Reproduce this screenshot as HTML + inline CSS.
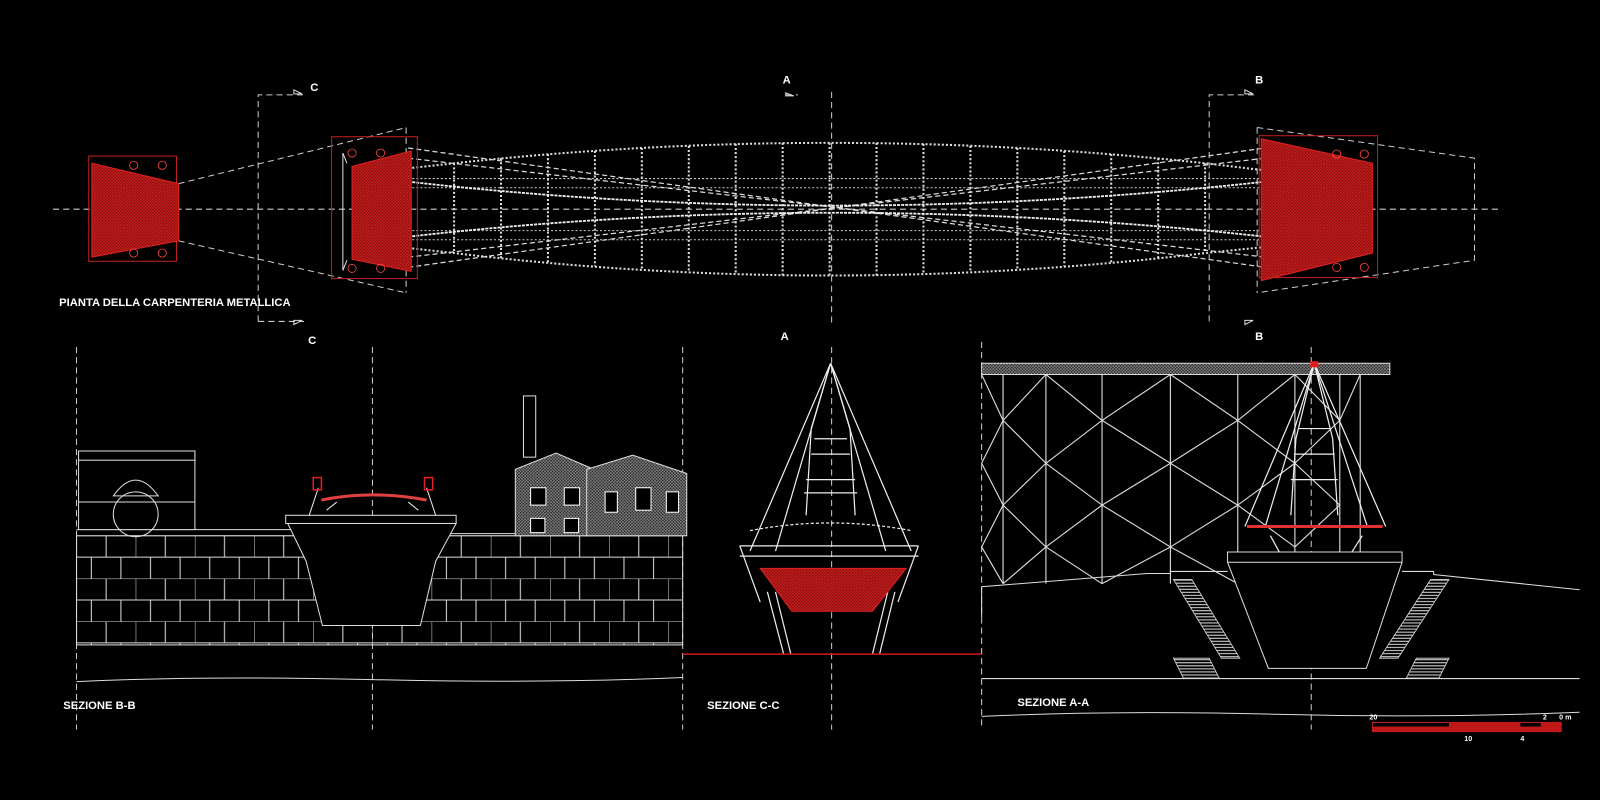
<!DOCTYPE html>
<html><head><meta charset="utf-8"><style>
html,body{margin:0;padding:0;background:#000;}
svg{display:block}
text{font-family:"Liberation Sans",sans-serif;font-weight:bold;fill:#fff;font-size:11px}
</style></head><body>
<svg width="1600" height="800" viewBox="0 0 1568 784" xmlns="http://www.w3.org/2000/svg">
<defs>
<pattern id="rh" width="3" height="3" patternUnits="userSpaceOnUse"><rect width="3" height="3" fill="#7a0a0a"/><path d="M0,0L3,3M3,0L0,3" stroke="#d02020" stroke-width="0.7"/></pattern>
<pattern id="st" width="4" height="3" patternUnits="userSpaceOnUse"><rect width="4" height="3" fill="#000"/><path d="M0,1.5H4" stroke="#ddd" stroke-width="1"/></pattern>
<pattern id="wh" width="3" height="3" patternUnits="userSpaceOnUse"><rect width="3" height="3" fill="#222"/><path d="M0,0L3,3M3,0L0,3" stroke="#aaa" stroke-width="0.5"/></pattern>
<pattern id="brick" width="58" height="42" patternUnits="userSpaceOnUse" x="17" y="525"><path d="M0,0H58M0,21H58M0,0V21M29,0V21M14.5,21V42M43.5,21V42" stroke="#ddd" stroke-width="1" fill="none"/></pattern>
</defs>
<rect width="1568" height="784" fill="#000"/>

<!-- ============ PLAN ============ -->
<g fill="none" stroke="#ccc" stroke-width="1" stroke-dasharray="6,4">
<line x1="52" y1="205" x2="1470" y2="205"/>
<path d="M175,180 L398,125 M175,236 L398,287"/>
<line x1="398" y1="125" x2="398" y2="287"/>
<path d="M1232,125 L1445,155 L1445,255 L1232,287"/>
<line x1="1232" y1="125" x2="1232" y2="287"/>
<path d="M253,315 V93 H298"/>
<path d="M253,315 H298"/>
<line x1="815" y1="90" x2="815" y2="320"/>
<path d="M770,93 H782"/>
<path d="M1185,315 V93 H1232"/>
</g>
<g fill="none" stroke="#ddd" stroke-width="1">
<path d="M288,88 l8,4 h-8z"/><path d="M288,318 l8,-4 h-8z"/>
<path d="M770,91 l8,3 h-8z"/><path d="M1220,88 l8,4 h-8z"/><path d="M1220,318 l8,-4 h-8z"/>
</g>
<g fill="none" stroke="#ddd" stroke-width="2" stroke-dasharray="2,2">
<path d="M400,165 L445,160 Q813,120 1181,160 L1240,167"/>
<path d="M400,243 L445,248 Q813,292 1181,248 L1240,242"/>
<line x1="445" y1="160" x2="445" y2="248"/><line x1="491" y1="155" x2="491" y2="253"/>
<line x1="537" y1="151" x2="537" y2="258"/><line x1="583" y1="148" x2="583" y2="261"/>
<line x1="629" y1="145" x2="629" y2="265"/><line x1="675" y1="143" x2="675" y2="267"/>
<line x1="721" y1="141" x2="721" y2="269"/><line x1="767" y1="140" x2="767" y2="270"/>
<line x1="813" y1="140" x2="813" y2="270"/><line x1="859" y1="140" x2="859" y2="270"/>
<line x1="905" y1="141" x2="905" y2="269"/><line x1="951" y1="143" x2="951" y2="267"/>
<line x1="997" y1="145" x2="997" y2="265"/><line x1="1043" y1="148" x2="1043" y2="261"/>
<line x1="1089" y1="151" x2="1089" y2="258"/><line x1="1135" y1="155" x2="1135" y2="253"/>
<line x1="1181" y1="160" x2="1181" y2="248"/>
</g>
<g fill="none" stroke="#ccc" stroke-width="1" stroke-dasharray="2,2">
<line x1="400" y1="175" x2="1240" y2="175"/><line x1="400" y1="184" x2="1240" y2="184"/>
<line x1="400" y1="226" x2="1240" y2="226"/><line x1="400" y1="235" x2="1240" y2="235"/>
</g>
<g fill="none" stroke="#ddd" stroke-width="1.2" stroke-dasharray="5,3">
<line x1="400" y1="145" x2="1240" y2="262"/><line x1="400" y1="262" x2="1240" y2="145"/>
<line x1="400" y1="155" x2="1240" y2="252"/><line x1="400" y1="252" x2="1240" y2="155"/>
</g>
<g fill="none" stroke="#eee" stroke-width="1.8" stroke-dasharray="3,1">
<path d="M400,178 Q813,225 1240,178"/><path d="M400,232 Q813,185 1240,232"/>
</g>
<rect x="87" y="153" width="86" height="103" fill="none" stroke="#c02020"/>
<polygon points="90,160 175,180 175,236 90,252" fill="url(#rh)" stroke="#e02020"/>
<rect x="325" y="134" width="84" height="139" fill="none" stroke="#c02020"/>
<polygon points="345,163 403,148 403,266 345,254" fill="url(#rh)" stroke="#e02020"/>
<polyline points="340,160 336,150 336,265 340,255" fill="none" stroke="#ddd"/>
<rect x="1234" y="133" width="116" height="139" fill="none" stroke="#c02020"/>
<polygon points="1236,136 1345,160 1345,248 1236,275" fill="url(#rh)" stroke="#e02020"/>
<g fill="none" stroke="#f44" stroke-width="0.8">
<circle cx="131" cy="162" r="4"/><circle cx="159" cy="162" r="4"/><circle cx="131" cy="248" r="4"/><circle cx="159" cy="248" r="4"/>
<circle cx="345" cy="150" r="4"/><circle cx="373" cy="150" r="4"/><circle cx="345" cy="263" r="4"/><circle cx="373" cy="263" r="4"/>
<circle cx="1310" cy="151" r="4"/><circle cx="1337" cy="151" r="4"/><circle cx="1310" cy="262" r="4"/><circle cx="1337" cy="262" r="4"/>
</g>
<text x="58" y="300">PIANTA DELLA CARPENTERIA METALLICA</text>
<text x="304" y="89">C</text><text x="302" y="337">C</text>
<text x="767" y="82">A</text><text x="765" y="333">A</text>
<text x="1230" y="82">B</text><text x="1230" y="333">B</text>

<!-- ============ SEZIONE B-B ============ -->
<g fill="none" stroke="#ccc" stroke-dasharray="6,4">
<line x1="75" y1="340" x2="75" y2="715"/><line x1="365" y1="340" x2="365" y2="715"/><line x1="669" y1="340" x2="669" y2="715"/>
</g>
<rect x="75" y="525" width="594" height="107" fill="url(#brick)" stroke="#ddd"/>
<line x1="75" y1="519" x2="300" y2="519" stroke="#ddd"/>
<line x1="430" y1="523" x2="669" y2="523" stroke="#ddd"/>
<g fill="#000" stroke="#ddd">
<rect x="77" y="442" width="114" height="77"/>
<rect x="77" y="442" width="114" height="9"/>
<line x1="77" y1="492" x2="191" y2="492"/>
<path d="M111,486 Q133,455 155,486 Z"/>
<circle cx="133" cy="504" r="22" fill="none"/>
</g>
<rect x="513" y="388" width="12" height="60" fill="#000" stroke="#ddd"/>
<polygon points="505,460 545,444 582,460 582,525 505,525" fill="url(#wh)" stroke="#ddd"/>
<polygon points="575,460 620,446 673,464 673,525 575,525" fill="url(#wh)" stroke="#ddd"/>
<g fill="#000" stroke="#fff">
<rect x="520" y="478" width="15" height="17"/><rect x="553" y="478" width="15" height="17"/>
<rect x="593" y="482" width="12" height="20"/><rect x="623" y="478" width="15" height="22"/><rect x="653" y="482" width="12" height="20"/>
<rect x="520" y="508" width="14" height="14"/><rect x="553" y="508" width="14" height="14"/>
</g>
<polygon points="282,513 447,513 427,550 412,613 316,613 300,550" fill="#000" stroke="#ddd"/>
<rect x="280" y="505" width="167" height="8" fill="#000" stroke="#ddd"/>
<path d="M315,490 Q365,480 418,490" stroke="#e04040" stroke-width="3" fill="none"/>
<g fill="none" stroke="#eee"><path d="M303,505 L312,478 M427,505 L418,478 M320,500 L330,492 M410,500 L400,492"/></g>
<rect x="307" y="468" width="8" height="12" fill="none" stroke="#e02020" stroke-width="1.5"/>
<rect x="416" y="468" width="8" height="12" fill="none" stroke="#e02020" stroke-width="1.5"/>
<path d="M75,668 Q200,662 365,666 T669,664" fill="none" stroke="#ddd"/>
<text x="62" y="695">SEZIONE B-B</text>

<!-- ============ SEZIONE C-C ============ -->
<line x1="815" y1="340" x2="815" y2="715" stroke="#ccc" stroke-dasharray="6,4"/>
<g fill="none" stroke="#eee" stroke-width="1.2">
<path d="M814,356 L735,540 M814,356 L893,540 M814,356 L760,540 M814,356 L868,540"/>
<path d="M814,356 L795,420 L790,505 M814,356 L833,420 L838,505"/>
<path d="M798,430 H830 M795,445 H833 M790,470 H838 M788,483 H840"/>
<path d="M735,520 Q814,505 893,520" stroke-dasharray="3,2"/>
<path d="M725,535 H900 M725,545 H900 M725,535 L745,590 M900,535 L880,590"/>
<path d="M752,580 L768,641 M760,580 L775,641 M877,580 L862,641 M870,580 L855,641"/>
</g>
<polygon points="745,557 888,557 855,599 776,599" fill="url(#rh)" stroke="#e02020"/>
<line x1="669" y1="641" x2="962" y2="641" stroke="#d01818" stroke-width="1.5"/>
<text x="693" y="695">SEZIONE C-C</text>

<!-- ============ SEZIONE A-A ============ -->
<line x1="962" y1="335" x2="962" y2="715" stroke="#ccc" stroke-dasharray="6,4"/>
<line x1="1285" y1="340" x2="1285" y2="715" stroke="#ccc" stroke-dasharray="6,4"/>
<rect x="962" y="356" width="400" height="11" fill="url(#wh)" stroke="#ddd"/>
<g fill="none" stroke="#ddd" stroke-width="1.1">
<path d="M983,367 V572 M1025,367 V572 M1080,367 V572 M1147,367 V572 M1213,367 V572 M1269,367 V572 M1313,367 V572 M1333,367 V560"/>
<path d="M962,367 L983,412 L962,454 L983,495 L962,536 L983,572"/>
<path d="M983,412 L1025,367 M983,412 L1025,454 L983,495 L1025,536 L983,572"/>
<path d="M1025,367 L1080,412 L1025,454 M1025,454 L1080,495 L1025,536 M1025,536 L1080,572"/>
<path d="M1080,412 L1147,367 M1080,412 L1147,454 L1080,495 L1147,536 L1080,572"/>
<path d="M1147,367 L1213,412 L1147,454 L1213,495 L1147,536 L1213,572"/>
<path d="M1213,412 L1269,367 M1213,412 L1269,454 L1213,495 L1269,536"/>
<path d="M1269,367 L1313,412 L1269,454 L1313,495 L1269,536 M1313,412 L1333,367"/>
</g>
<g fill="none" stroke="#eee" stroke-width="1.2">
<path d="M1288,356 L1220,516 M1288,356 L1358,516 M1288,356 L1240,516 M1288,356 L1340,516"/>
<path d="M1288,356 L1270,430 L1265,505 M1288,356 L1306,430 L1311,505"/>
<path d="M1272,420 H1304 M1268,445 H1308 M1265,470 H1311"/>
<path d="M1245,525 L1275,580 M1335,525 L1300,580 M1275,580 H1300"/>
</g>
<line x1="1222" y1="516" x2="1355" y2="516" stroke="#e03030" stroke-width="3"/>
<rect x="1284" y="354" width="8" height="6" fill="#e02020"/>
<polygon points="1203,541 1374,541 1374,551 1339,655 1243,655 1203,551" fill="#000" stroke="#ddd"/>
<line x1="1203" y1="551" x2="1374" y2="551" stroke="#ddd"/>
<g fill="none" stroke="#ddd">
<path d="M962,605 L962,575 L1125,562 L1147,562 V560 H1203"/>
<path d="M1374,560 H1405 V563 L1548,578"/>
<line x1="962" y1="665" x2="1548" y2="665"/>
<path d="M962,702 Q1100,696 1250,700 T1548,698"/>
</g>
<g fill="url(#st)" stroke="#ddd" stroke-width="0.8">
<polygon points="1150,568 1168,568 1215,645 1197,645"/>
<polygon points="1420,568 1402,568 1352,645 1370,645"/>
<polygon points="1150,645 1185,645 1195,665 1160,665"/>
<polygon points="1420,645 1388,645 1378,665 1410,665"/>
</g>
<text x="997" y="692">SEZIONE A-A</text>
<rect x="1345" y="708" width="185" height="9" fill="none" stroke="#c02020"/>
<rect x="1345" y="712" width="185" height="5" fill="#c01818"/>
<rect x="1420" y="708" width="70" height="4" fill="#c01818"/>
<rect x="1510" y="708" width="20" height="4" fill="#c01818"/>
<text x="1342" y="705" style="font-size:7px">20</text><text x="1512" y="705" style="font-size:7px">2</text><text x="1528" y="705" style="font-size:7px">0 m</text><text x="1435" y="726" style="font-size:7px">10</text><text x="1490" y="726" style="font-size:7px">4</text>
</svg>
</body></html>
